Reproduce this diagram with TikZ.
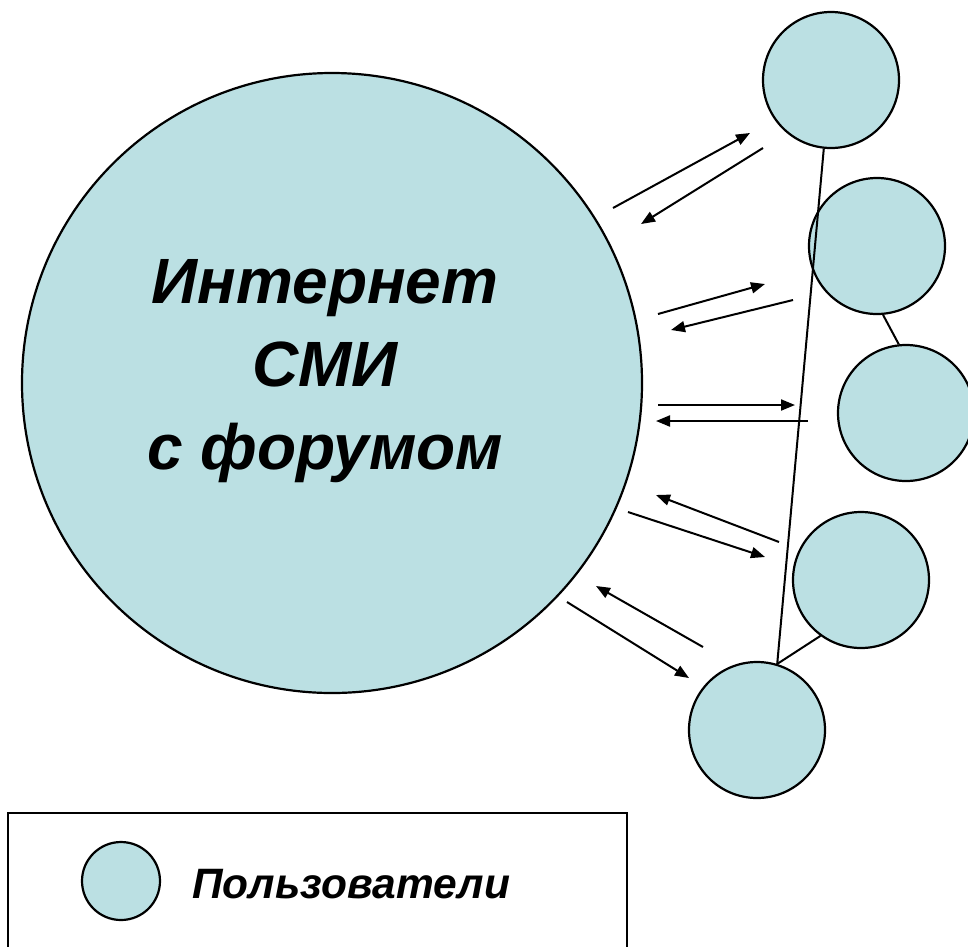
\documentclass[tikz,border=0pt]{standalone}
\usepackage{fontspec}
\setmainfont{Liberation Sans}
\usetikzlibrary{arrows.meta}
\definecolor{userblue}{RGB}{187,224,227}
\tikzset{
    site/.style={
        draw,
        circle,
        fill=userblue,
        line width=2.2pt,
        minimum size=620pt,
        inner sep=0pt
    },
    user/.style={
        draw,
        circle,
        fill=userblue,
        line width=2.2pt,
        minimum size=136pt,
        inner sep=0pt
    },
    flow/.style={
        line width=2pt,
        -{Triangle[length=14pt, width=11pt]}
    },
    link/.style={line width=2pt}
}

\begin{document}
\begin{tikzpicture}[x=1pt, y=-1pt]
    \useasboundingbox (0,0) rectangle (968,946);
    % Media site
    \node[site] (media) at (332,383) {};
    \node[font=\bfseries\itshape\fontsize{64}{83}\selectfont, align=center] (title) at (325,371) {Интернет\\СМИ\\с форумом};

    % Users
    \node[user] (u1) at (831,80) {};
    \node[user] (u2) at (877,246) {};
    \node[user] (u3) at (906,413) {};
    \node[user] (u4) at (861,580) {};
    \node[user] (u5) at (757,730) {};

    % Links between users
    \draw[link] (u1.264) -- (u5.73) -- (u4.234);
    \draw[link] (u2.275) -- (u3.96);

    % Messages
    \coordinate (out1) at (613,208);  \coordinate (to1) at (750,133);
    \coordinate (back1) at (763,148); \coordinate (in1) at (641,224);
    \coordinate (out2) at (658,314);  \coordinate (to2) at (765,284);
    \coordinate (back2) at (793,300); \coordinate (in2) at (671,330);
    \coordinate (out3) at (658,405);  \coordinate (to3) at (795,405);
    \coordinate (back3) at (808,421); \coordinate (in3) at (656,421);
    \coordinate (out4) at (628,512);  \coordinate (to4) at (765,557);
    \coordinate (back4) at (779,542); \coordinate (in4) at (656,495);
    \coordinate (out5) at (567,602);  \coordinate (to5) at (689,678);
    \coordinate (back5) at (703,647); \coordinate (in5) at (596,586);
    \draw[flow] (out1) -- (to1);
    \draw[flow] (back1) -- (in1);
    \draw[flow] (out2) -- (to2);
    \draw[flow] (back2) -- (in2);
    \draw[flow] (out3) -- (to3);
    \draw[flow] (back3) -- (in3);
    \draw[flow] (out4) -- (to4);
    \draw[flow] (back4) -- (in4);
    \draw[flow] (out5) -- (to5);
    \draw[flow] (back5) -- (in5);

    % Legend
    \draw[link] (8,813) rectangle (627,960);
    \node[user, minimum size=78pt] (key) at (121,881) {};
    \node[font=\bfseries\itshape\fontsize{42.5}{50}\selectfont, anchor=base west, inner sep=0pt] (keytext) at (192,898) {Пользователи};
\end{tikzpicture}
\end{document}
